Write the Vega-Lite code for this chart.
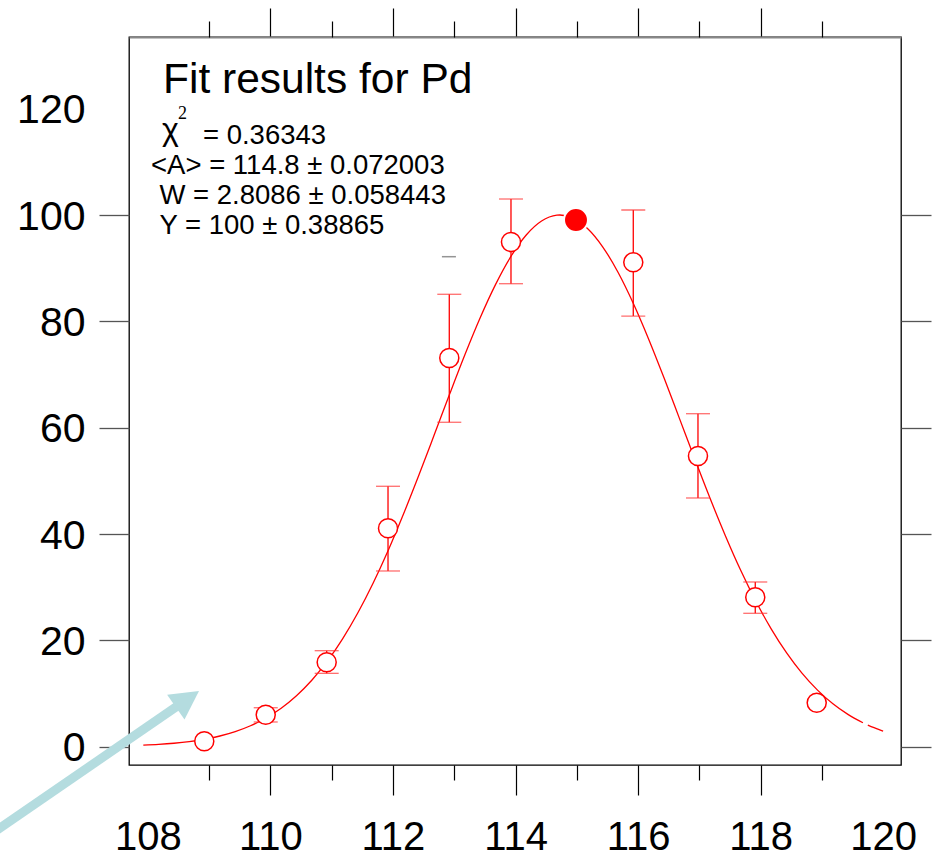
{
  "$schema": "https://vega.github.io/schema/vega-lite/v6.json",
  "width": 772,
  "height": 728,
  "autosize": {"type": "none"},
  "padding": {"left": 129, "top": 37, "right": 32, "bottom": 95},
  "background": "white",
  "config": {
    "view": {"stroke": "black", "strokeWidth": 1.3},
    "axis": {"grid": false, "title": null, "labelFont": "Liberation Sans", "labelColor": "black"}
  },
  "datasets": {
    "curve": [
      {"x": 107.925, "y": 0.284, "seg": "a"}, {"x": 108.175, "y": 0.434, "seg": "a"}, {"x": 108.425, "y": 0.653, "seg": "a"},
      {"x": 108.675, "y": 0.965, "seg": "a"}, {"x": 108.925, "y": 1.405, "seg": "a"}, {"x": 109.175, "y": 2.014, "seg": "a"},
      {"x": 109.425, "y": 2.841, "seg": "a"}, {"x": 109.675, "y": 3.944, "seg": "a"}, {"x": 109.925, "y": 5.389, "seg": "a"},
      {"x": 110.175, "y": 7.248, "seg": "a"}, {"x": 110.425, "y": 9.594, "seg": "a"}, {"x": 110.675, "y": 12.50, "seg": "a"},
      {"x": 110.925, "y": 16.03, "seg": "a"}, {"x": 111.175, "y": 20.24, "seg": "a"}, {"x": 111.425, "y": 25.14, "seg": "a"},
      {"x": 111.675, "y": 30.75, "seg": "a"}, {"x": 111.925, "y": 37.01, "seg": "a"}, {"x": 112.175, "y": 43.86, "seg": "a"},
      {"x": 112.425, "y": 51.14, "seg": "a"}, {"x": 112.675, "y": 58.70, "seg": "a"}, {"x": 112.925, "y": 66.32, "seg": "a"},
      {"x": 113.175, "y": 73.75, "seg": "a"}, {"x": 113.425, "y": 80.72, "seg": "a"}, {"x": 113.675, "y": 86.96, "seg": "a"},
      {"x": 113.925, "y": 92.21, "seg": "a"}, {"x": 114.175, "y": 96.24, "seg": "a"}, {"x": 114.425, "y": 98.87, "seg": "a"},
      {"x": 114.675, "y": 99.97, "seg": "a"}, {"x": 114.725, "y": 100.0, "seg": "a"}, {"x": 114.925, "y": 99.49, "seg": "a"},
      {"x": 115.175, "y": 97.47, "seg": "a"}, {"x": 115.425, "y": 93.98, "seg": "a"}, {"x": 115.675, "y": 89.19, "seg": "a"},
      {"x": 115.925, "y": 83.31, "seg": "a"}, {"x": 116.175, "y": 76.60, "seg": "a"}, {"x": 116.425, "y": 69.33, "seg": "a"},
      {"x": 116.675, "y": 61.75, "seg": "a"}, {"x": 116.925, "y": 54.14, "seg": "a"}, {"x": 117.175, "y": 46.72, "seg": "a"},
      {"x": 117.425, "y": 39.69, "seg": "a"}, {"x": 117.675, "y": 33.18, "seg": "a"}, {"x": 117.925, "y": 27.31, "seg": "a"},
      {"x": 118.175, "y": 22.12, "seg": "a"}, {"x": 118.425, "y": 17.63, "seg": "a"}, {"x": 118.675, "y": 13.83, "seg": "a"},
      {"x": 118.925, "y": 10.69, "seg": "a"}, {"x": 119.175, "y": 8.12, "seg": "a"}, {"x": 119.425, "y": 6.08, "seg": "a"},
      {"x": 119.67, "y": 4.50, "seg": "a"},
      {"x": 119.75, "y": 4.07, "seg": "b"}, {"x": 119.925, "y": 3.25, "seg": "b"}, {"x": 120.0, "y": 2.94, "seg": "b"}
    ],
    "pts": [
      {"x": 108.920, "y": 1.02},
      {"x": 109.923, "y": 6.02, "lo": 4.65, "hi": 7.33},
      {"x": 110.918, "y": 15.87, "lo": 13.80, "hi": 18.06},
      {"x": 111.919, "y": 41.08, "lo": 33.05, "hi": 48.98},
      {"x": 112.919, "y": 73.10, "lo": 61.02, "hi": 85.09},
      {"x": 113.926, "y": 94.92, "lo": 87.08, "hi": 103.01},
      {"x": 115.922, "y": 91.10, "lo": 81.00, "hi": 100.94},
      {"x": 116.978, "y": 54.67, "lo": 46.78, "hi": 62.63},
      {"x": 117.913, "y": 28.10, "lo": 25.09, "hi": 30.98},
      {"x": 118.916, "y": 8.28}
    ],
    "peak": [{"x": 114.987, "y": 99.06}],
    "dash": [{"x": 112.913, "y": 92.16}],
    "arrow": [{"x": 105.5, "y": -15.96, "x2": 108.606, "y2": 8.63}],
    "arrowhead": [{"x": 108.834, "y": 10.48}],
    "title": [{"label": "Fit results for Pd", "x": 108.246, "y": 122.89}],
    "chi": [{"label": "χ", "x": 108.23, "y": 114.1}],
    "sup": [{"label": "2", "x": 108.491, "y": 118.06}],
    "stats": [
      {"label": "= 0.36343", "x": 108.899, "y": 113.30},
      {"label": "<A> = 114.8 ± 0.072003", "x": 108.051, "y": 107.71},
      {"label": "W = 2.8086 ± 0.058443", "x": 108.189, "y": 102.07},
      {"label": "Y = 100 ± 0.38865", "x": 108.189, "y": 96.43}
    ]
  },
  "resolve": {"axis": {"x": "independent", "y": "independent"}},
  "layer": [
    {
      "data": {"name": "curve"},
      "mark": {"type": "line", "color": "#ff0000", "strokeWidth": 1.3, "interpolate": "monotone"},
      "encoding": {
        "x": {"field": "x", "type": "quantitative", "scale": {"domain": [107.6915, 120.2916], "nice": false, "zero": false},
          "axis": {"orient": "bottom", "values": [108, 110, 112, 114, 116, 118, 120], "tickSize": 0, "domain": false, "labelPadding": 52, "labelFontSize": 40, "labelBaseline": "top", "format": "d", "labelFlush": false, "labelOverlap": false}},
        "y": {"field": "y", "type": "quantitative", "scale": {"domain": [-3.44, 133.48], "nice": false, "zero": false},
          "axis": {"orient": "left", "values": [0, 20, 40, 60, 80, 100, 120], "tickSize": 0, "domain": false, "labelPadding": 44, "labelFontSize": 41, "labelOffset": 2, "labelFlush": false, "labelOverlap": false}},
        "detail": {"field": "seg"}
      }
    },
    {
      "data": {"name": "pts"},
      "transform": [{"filter": "isValid(datum.lo)"}],
      "mark": {"type": "rule", "color": "#ff0000", "strokeWidth": 1.3},
      "encoding": {
        "x": {"field": "x", "type": "quantitative", "scale": {"domain": [107.6915, 120.2916], "nice": false, "zero": false},
          "axis": {"orient": "bottom", "values": [110, 112, 114, 116, 118], "tickSize": 30, "labels": false, "domain": false, "tickColor": "black", "tickWidth": 1.2}},
        "y": {"field": "lo", "type": "quantitative", "scale": {"domain": [-3.44, 133.48], "nice": false, "zero": false},
          "axis": {"orient": "left", "values": [0, 20, 40, 60, 80, 100], "tickSize": 30, "labels": false, "domain": false, "tickColor": "#555555", "tickWidth": 1.3}},
        "y2": {"field": "hi"}
      }
    },
    {
      "data": {"name": "pts"},
      "transform": [{"filter": "isValid(datum.hi)"}],
      "mark": {"type": "tick", "orient": "horizontal", "color": "#ff3030", "size": 24, "thickness": 1.3},
      "encoding": {
        "x": {"field": "x", "type": "quantitative", "scale": {"domain": [107.6915, 120.2916], "nice": false, "zero": false},
          "axis": {"orient": "bottom", "values": [109, 111, 113, 115, 117, 119], "tickSize": 15, "labels": false, "domain": false, "tickColor": "black", "tickWidth": 1.2}},
        "y": {"field": "hi", "type": "quantitative", "scale": {"domain": [-3.44, 133.48], "nice": false, "zero": false},
          "axis": {"orient": "right", "values": [0, 20, 40, 60, 80, 100], "tickSize": 30, "labels": false, "domain": false, "tickColor": "#555555", "tickWidth": 1.3}}
      }
    },
    {
      "data": {"name": "pts"},
      "transform": [{"filter": "isValid(datum.lo)"}],
      "mark": {"type": "tick", "orient": "horizontal", "color": "#ff3030", "size": 24, "thickness": 1.3},
      "encoding": {
        "x": {"field": "x", "type": "quantitative", "scale": {"domain": [107.6915, 120.2916], "nice": false, "zero": false},
          "axis": {"orient": "top", "values": [110, 112, 114, 116, 118], "tickSize": 29, "labels": false, "domain": true, "domainColor": "#888888", "domainWidth": 2, "tickColor": "black", "tickWidth": 1.2}},
        "y": {"field": "lo", "type": "quantitative", "scale": {"domain": [-3.44, 133.48], "nice": false, "zero": false}, "axis": null}
      }
    },
    {
      "data": {"name": "pts"},
      "mark": {"type": "point", "shape": "circle", "filled": false, "fill": "white", "fillOpacity": 1, "stroke": "#ff0000", "strokeWidth": 1.5, "opacity": 1, "size": 363},
      "encoding": {
        "x": {"field": "x", "type": "quantitative", "scale": {"domain": [107.6915, 120.2916], "nice": false, "zero": false},
          "axis": {"orient": "top", "values": [109, 111, 113, 115, 117, 119], "tickSize": 16, "labels": false, "domain": false, "tickColor": "black", "tickWidth": 1.2}},
        "y": {"field": "y", "type": "quantitative", "scale": {"domain": [-3.44, 133.48], "nice": false, "zero": false}, "axis": null}
      }
    },
    {
      "data": {"name": "peak"},
      "mark": {"type": "point", "shape": "circle", "filled": true, "fill": "#ff0000", "fillOpacity": 1, "stroke": "white", "strokeWidth": 2, "opacity": 1, "size": 573},
      "encoding": {
        "x": {"field": "x", "type": "quantitative", "scale": {"domain": [107.6915, 120.2916], "nice": false, "zero": false}, "axis": null},
        "y": {"field": "y", "type": "quantitative", "scale": {"domain": [-3.44, 133.48], "nice": false, "zero": false}, "axis": null}
      }
    },
    {
      "data": {"name": "dash"},
      "mark": {"type": "tick", "orient": "horizontal", "color": "#666666", "size": 14, "thickness": 1.5},
      "encoding": {
        "x": {"field": "x", "type": "quantitative", "scale": {"domain": [107.6915, 120.2916], "nice": false, "zero": false}, "axis": null},
        "y": {"field": "y", "type": "quantitative", "scale": {"domain": [-3.44, 133.48], "nice": false, "zero": false}, "axis": null}
      }
    },
    {
      "data": {"name": "arrow"},
      "mark": {"type": "rule", "color": "#b4dcdf", "strokeWidth": 9, "strokeCap": "butt", "clip": false},
      "encoding": {
        "x": {"field": "x", "type": "quantitative", "scale": {"domain": [107.6915, 120.2916], "nice": false, "zero": false}, "axis": null},
        "y": {"field": "y", "type": "quantitative", "scale": {"domain": [-3.44, 133.48], "nice": false, "zero": false}, "axis": null},
        "x2": {"field": "x2"},
        "y2": {"field": "y2"}
      }
    },
    {
      "data": {"name": "arrowhead"},
      "mark": {"type": "point", "shape": "M0,0L-2,-1.07L-2,1.07Z", "filled": true, "color": "#b4dcdf", "opacity": 1, "size": 801, "angle": 325, "clip": false, "strokeWidth": 0},
      "encoding": {
        "x": {"field": "x", "type": "quantitative", "scale": {"domain": [107.6915, 120.2916], "nice": false, "zero": false}, "axis": null},
        "y": {"field": "y", "type": "quantitative", "scale": {"domain": [-3.44, 133.48], "nice": false, "zero": false}, "axis": null}
      }
    },
    {
      "data": {"name": "title"},
      "mark": {"type": "text", "align": "left", "baseline": "alphabetic", "font": "Liberation Sans", "fontSize": 42.5, "color": "black"},
      "encoding": {
        "x": {"field": "x", "type": "quantitative", "scale": {"domain": [107.6915, 120.2916], "nice": false, "zero": false}, "axis": null},
        "y": {"field": "y", "type": "quantitative", "scale": {"domain": [-3.44, 133.48], "nice": false, "zero": false}, "axis": null},
        "text": {"field": "label"}
      }
    },
    {
      "data": {"name": "stats"},
      "mark": {"type": "text", "align": "left", "baseline": "alphabetic", "font": "Liberation Sans", "fontSize": 27.5, "color": "black"},
      "encoding": {
        "x": {"field": "x", "type": "quantitative", "scale": {"domain": [107.6915, 120.2916], "nice": false, "zero": false}, "axis": null},
        "y": {"field": "y", "type": "quantitative", "scale": {"domain": [-3.44, 133.48], "nice": false, "zero": false}, "axis": null},
        "text": {"field": "label"}
      }
    },
    {
      "data": {"name": "chi"},
      "mark": {"type": "text", "align": "left", "baseline": "alphabetic", "font": "Liberation Sans", "fontSize": 32, "color": "black"},
      "encoding": {
        "x": {"field": "x", "type": "quantitative", "scale": {"domain": [107.6915, 120.2916], "nice": false, "zero": false}, "axis": null},
        "y": {"field": "y", "type": "quantitative", "scale": {"domain": [-3.44, 133.48], "nice": false, "zero": false}, "axis": null},
        "text": {"field": "label"}
      }
    },
    {
      "data": {"name": "sup"},
      "mark": {"type": "text", "align": "left", "baseline": "alphabetic", "font": "Liberation Serif", "fontSize": 18, "color": "black"},
      "encoding": {
        "x": {"field": "x", "type": "quantitative", "scale": {"domain": [107.6915, 120.2916], "nice": false, "zero": false}, "axis": null},
        "y": {"field": "y", "type": "quantitative", "scale": {"domain": [-3.44, 133.48], "nice": false, "zero": false}, "axis": null},
        "text": {"field": "label"}
      }
    }
  ]
}
